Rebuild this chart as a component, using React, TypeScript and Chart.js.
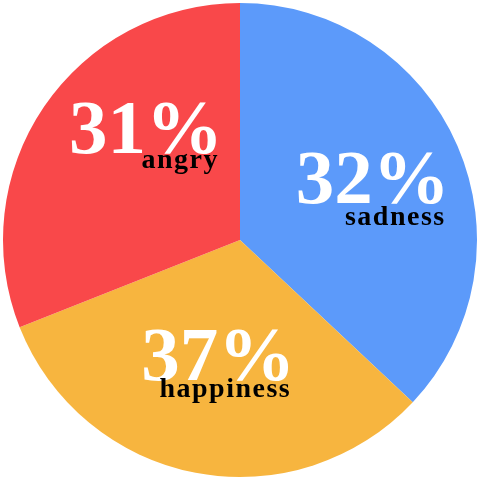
import React, { useEffect, useRef } from "react";
import { Chart, registerables } from "chart.js";

Chart.register(...registerables);

const categories = ["sadness", "happiness", "angry"];
const sliceValues = [37, 32, 31];
const percentLabels = ["32%", "37%", "31%"];
const sliceColors = ["rgb(92,154,250)", "rgb(247,181,63)", "rgb(249,72,74)"];

const labelRadiusFrac = [0.62, 0.49, 0.62];
const labelAngleShift = [-2, 0, 16];
const labelDrop = [22, 17, 15];

const labelPlugin = {
  id: "sliceLabels",
  afterDatasetsDraw(chart: any) {
    const ctx = chart.ctx;
    const meta = chart.getDatasetMeta(0);
    meta.data.forEach((arc: any, i: number) => {
      const { x, y, startAngle, endAngle, outerRadius } = arc.getProps(
        ["x", "y", "startAngle", "endAngle", "outerRadius"],
        true
      );
      const mid = (startAngle + endAngle) / 2 + (labelAngleShift[i] * Math.PI) / 180;
      const r = outerRadius * labelRadiusFrac[i];
      const cx = x + Math.cos(mid) * r;
      const cy = y + Math.sin(mid) * r;
      ctx.save();
      ctx.font = "bold 77px 'Liberation Serif', serif";
      ctx.fillStyle = "#ffffff";
      ctx.textAlign = "center";
      ctx.textBaseline = "alphabetic";
      const numY = cy + 26;
      ctx.fillText(percentLabels[i], cx, numY);
      const w = ctx.measureText(percentLabels[i]).width;
      ctx.font = "bold 28px 'Liberation Serif', serif";
      (ctx as any).letterSpacing = "1.5px";
      ctx.fillStyle = "#000000";
      ctx.textAlign = "right";
      ctx.fillText(categories[i], cx + w / 2 - 4, numY + labelDrop[i]);
      ctx.restore();
    });
  },
};

export default function App() {
  const ref = useRef<HTMLCanvasElement>(null);
  useEffect(() => {
    document.body.style.margin = "0";
    const chart = new Chart(ref.current as HTMLCanvasElement, {
      type: "pie",
      data: {
        labels: categories,
        datasets: [
          {
            data: sliceValues,
            backgroundColor: sliceColors,
            borderWidth: 0,
          },
        ],
      },
      options: {
        responsive: false,
        animation: false,
        layout: { padding: 3 },
        plugins: {
          legend: { display: false },
          tooltip: { enabled: false },
        },
      },
      plugins: [labelPlugin],
    });
    return () => chart.destroy();
  }, []);
  return (
    <div style={{ width: 480, height: 480 }}>
      <canvas ref={ref} width={480} height={480} />
    </div>
  );
}
